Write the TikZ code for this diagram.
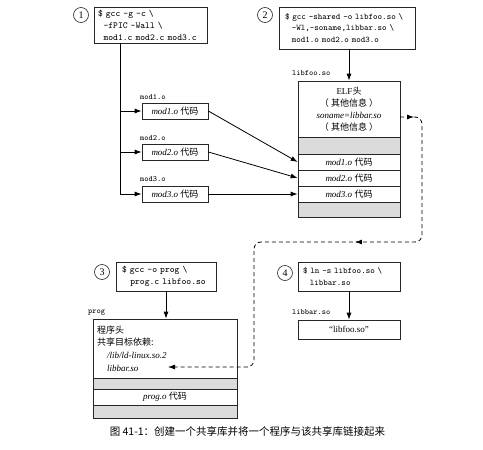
\documentclass[tikz,border=0pt]{standalone}
\usepackage{fontspec}
\setmainfont{Liberation Serif}
\newfontfamily\cjk{Noto Sans CJK SC}
\usetikzlibrary{arrows.meta,decorations.markings}
\begin{document}
\begin{tikzpicture}[x=1pt,y=-1pt,
  box/.style={draw=black!85, line width=0.7pt, inner sep=0pt},
  cmdA/.style={box, font=\ttfamily\fontsize{9.2}{12}\selectfont, align=left},
  cmdB/.style={box, font=\ttfamily\fontsize{8.6}{11.5}\selectfont, align=left},
  graybox/.style={box, fill=black!14},
  rowbox/.style={box, font=\fontsize{9}{12}\selectfont},
  lbl/.style={font=\ttfamily\fontsize{8}{9}\selectfont, inner sep=0pt, anchor=west},
  num/.style={draw=black!85, line width=0.6pt, circle, minimum size=15pt, inner sep=0pt, font=\fontsize{10}{10}\selectfont},
  arr/.style={-{Latex[length=7pt,width=5pt]}, line width=0.8pt},
]
\useasboundingbox (0,0) rectangle (483,450);

% ---------- step 1 ----------
\node[num] (n1) at (81,15) {1};
\node[cmdA, minimum width=113pt, minimum height=36pt, text width=105pt, inner xsep=4pt] (b1) at (150.5,25)
  {\$ gcc -g -c \textbackslash\\\hspace*{0.6em}-fPIC -Wall \textbackslash\\\hspace*{0.6em}mod1.c mod2.c mod3.c};

\node[lbl] (l1) at (140,97) {mod1.o};
\node[lbl] (l2) at (140,138) {mod2.o};
\node[lbl] (l3) at (140,179) {mod3.o};
\node[rowbox, minimum width=66pt, minimum height=16pt] (m1) at (175,111) {\textit{mod1.o} {\cjk 代码}};
\node[rowbox, minimum width=66pt, minimum height=16pt] (m2) at (175,152) {\textit{mod2.o} {\cjk 代码}};
\node[rowbox, minimum width=66pt, minimum height=16pt] (m3) at (175,194) {\textit{mod3.o} {\cjk 代码}};

\coordinate (trunk) at (120,194);
\draw[line width=0.8pt] (b1.south -| trunk) -- (trunk);
\draw[arr] (trunk |- m1.west) -- (m1.west);
\draw[arr] (trunk |- m2.west) -- (m2.west);
\draw[arr] (trunk) -- (m3.west);

% ---------- step 2 ----------
\node[num] (n2) at (265,15) {2};
\node[cmdB, minimum width=136pt, minimum height=42pt, text width=124pt, inner xsep=6pt] (b2) at (347,28)
  {\$ gcc -shared -o libfoo.so \textbackslash\\\hspace*{0.8em}-Wl,-soname,libbar.so \textbackslash\\\hspace*{0.8em}mod1.o mod2.o mod3.o};

\node[lbl] (lfoo) at (292,73) {libfoo.so};
\node[rowbox, minimum width=102pt, minimum height=56pt, align=center] (elfh) at (349,109)
  {ELF{\cjk 头}\\{\cjk （ 其他信息 ）}\\\textit{soname=libbar.so}\\{\cjk （ 其他信息 ）}};
\node[graybox, minimum width=102pt, minimum height=17pt] (eg1) at (349,145.5) {};
\node[rowbox, minimum width=102pt, minimum height=16pt] (e1) at (349,162) {\textit{mod1.o} {\cjk 代码}};
\node[rowbox, minimum width=102pt, minimum height=16pt] (e2) at (349,178) {\textit{mod2.o} {\cjk 代码}};
\node[rowbox, minimum width=102pt, minimum height=16pt] (e3) at (349,194) {\textit{mod3.o} {\cjk 代码}};
\node[graybox, minimum width=102pt, minimum height=15pt] (eg2) at (349,209.5) {};

\draw[arr] (b2.south -| elfh.north) -- (elfh.north);
\draw[arr] (m1.east) -- (e1.west);
\draw[arr] (m2.east) -- (e2.west);
\draw[arr] (m3.east) -- (e3.west);

% ---------- step 3 ----------
\node[num] (n3) at (102,272) {3};
\node[cmdA, minimum width=100pt, minimum height=29pt, text width=88pt, inner xsep=6pt] (b3) at (166,276.5)
  {\$ gcc -o prog \textbackslash\\\hspace*{0.9em}prog.c libfoo.so};

\node[lbl] (lprog) at (88,313) {prog};
\node[box, minimum width=144pt, minimum height=59pt] (ph) at (165,348.5) {};
\node[font=\fontsize{9}{12.7}\selectfont, align=left, anchor=west, inner sep=0pt] (pht) at (97,348.5)
  {{\cjk 程序头}\\{\cjk 共享目标依赖:}\\\hspace*{10pt}\textit{/lib/ld-linux.so.2}\\\hspace*{10pt}\textit{libbar.so}};
\node[graybox, minimum width=144pt, minimum height=11pt] (pg1) at (165,383.5) {};
\node[rowbox, minimum width=144pt, minimum height=16pt] (po) at (165,397) {\textit{prog.o} {\cjk 代码}};
\node[graybox, minimum width=144pt, minimum height=13pt] (pg2) at (165,411.5) {};

\draw[arr] (b3.south) -- (b3.south |- ph.north);

% ---------- step 4 ----------
\node[num] (n4) at (285,273) {4};
\node[cmdB, minimum width=102pt, minimum height=29pt, text width=92pt, inner xsep=5pt] (b4) at (349,276.5)
  {\$ ln -s libfoo.so \textbackslash\\\hspace*{0.8em}libbar.so};
\node[lbl] (lbar) at (292,312) {libbar.so};
\node[rowbox, minimum width=102pt, minimum height=19pt] (lf) at (349,329.5) {“libfoo.so”};
\draw[arr] (b4.south) -- (lf.north);

% ---------- dashed soname link ----------
\coordinate (sonameout) at (400,117);
\coordinate (t1) at (422,117);
\coordinate (t2) at (422,242);
\coordinate (t3) at (254,242);
\coordinate (t4) at (254,367);
\coordinate (libbarin) at (168,367);
\draw[line width=0.8pt, dash pattern=on 4pt off 3pt, rounded corners=7pt,
      -{Latex[length=7pt,width=5pt]},
      decoration={markings,
        mark=at position 14pt with {\arrow{Latex[length=7pt,width=5pt]}},
        mark=at position 208pt with {\arrow{Latex[length=7pt,width=5pt]}}},
      postaction={decorate}]
  (sonameout) -- (t1) -- (t2) -- (t3) -- (t4) -- (libbarin);

% ---------- caption ----------
\node[font=\cjk\fontsize{10.5}{12}\selectfont, inner sep=0pt] (cap) at (247.5,432)
  {图 41-1：创建一个共享库并将一个程序与该共享库链接起来};
\end{tikzpicture}
\end{document}
